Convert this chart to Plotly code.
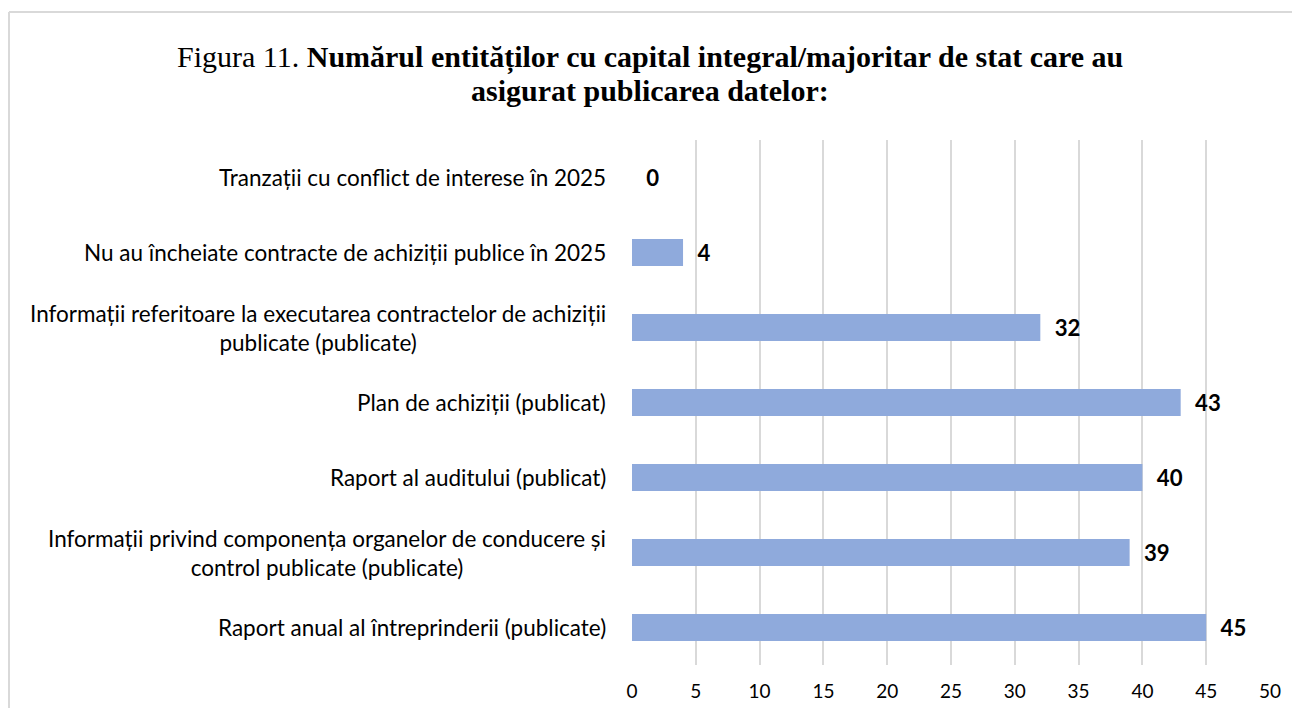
import plotly.graph_objects as go

categories = [
    "Raport anual al întreprinderii (publicate)",
    "Informații privind componența organelor de conducere și<br>control publicate (publicate)",
    "Raport al auditului (publicat)",
    "Plan de achiziții (publicat)",
    "Informații referitoare la executarea contractelor de achiziții<br>publicate (publicate)",
    "Nu au încheiate contracte de achiziții publice în 2025",
    "Tranzații cu conflict de interese în 2025",
]
values = [45, 39, 40, 43, 32, 4, 0]
x_ticks = [0, 5, 10, 15, 20, 25, 30, 35, 40, 45, 50]
title_line1 = "Figura 11. <b>Numărul entităților cu capital integral/majoritar de stat care au</b>"
title_line2 = "<b>asigurat publicarea datelor:</b>"

# page has an 8px body margin; size the figure so no scrollbars appear
W, H = 1284, 700
L, R, T, B = 624, 22, 132, 42.5
pw, ph = W - L - R, H - T - B

def py(y):  # figure pixel (from top) -> paper y
    return (H - B - y) / ph

def px(x):  # figure pixel (from left) -> paper x
    return (x - L) / pw

fig = go.Figure()
fig.add_trace(go.Bar(
    y=categories, x=values, orientation="h",
    marker=dict(color="#8FAADC", line=dict(width=0)),
    text=[str(v) for v in values],
    texttemplate="  <b>%{text}</b>",
    textposition="outside",
    textfont=dict(family="Lato", size=23, color="#000000"),
    cliponaxis=False,
    hoverinfo="skip",
))

for c in categories:
    fig.add_annotation(
        x=px(L - 24), xref="paper", y=c, yref="y",
        text=c, showarrow=False, xanchor="right", yanchor="middle",
        align="center", font=dict(family="Lato", size=22.5, color="#000000"),
    )

for txt, yc in [(title_line1, 49), (title_line2, 82)]:
    fig.add_annotation(
        x=px(642), xref="paper", y=py(yc), yref="paper",
        text=txt, showarrow=False, xanchor="center", yanchor="middle",
        font=dict(family="Liberation Serif", size=30, color="#000000"),
    )

border = dict(color="#D9D9D9", width=2)
fig.update_layout(
    width=W, height=H,
    margin=dict(l=L, r=R, t=T, b=B, autoexpand=False),
    paper_bgcolor="white", plot_bgcolor="white",
    showlegend=False,
    bargap=0.64,
    xaxis=dict(
        range=[0, 50], tickvals=x_ticks, ticktext=[str(t) for t in x_ticks],
        showgrid=True, gridcolor="#D9D9D9", gridwidth=1.5,
        zeroline=False, showline=False, ticks="", automargin=False,
        tickfont=dict(family="Lato", size=19, color="#000000"),
        ticklabelstandoff=13,
    ),
    yaxis=dict(
        showticklabels=False, showgrid=False, zeroline=False, automargin=False,
        showline=False, ticks="", categoryorder="array", categoryarray=categories,
    ),
    shapes=[
        dict(type="line", xref="paper", yref="paper",
             x0=px(1), x1=px(W + 40), y0=py(4), y1=py(4), line=border, layer="below"),
        dict(type="line", xref="paper", yref="paper",
             x0=px(1), x1=px(1), y0=py(4), y1=py(H + 40), line=border, layer="below"),
    ],
)
fig.write_html("out.html")
